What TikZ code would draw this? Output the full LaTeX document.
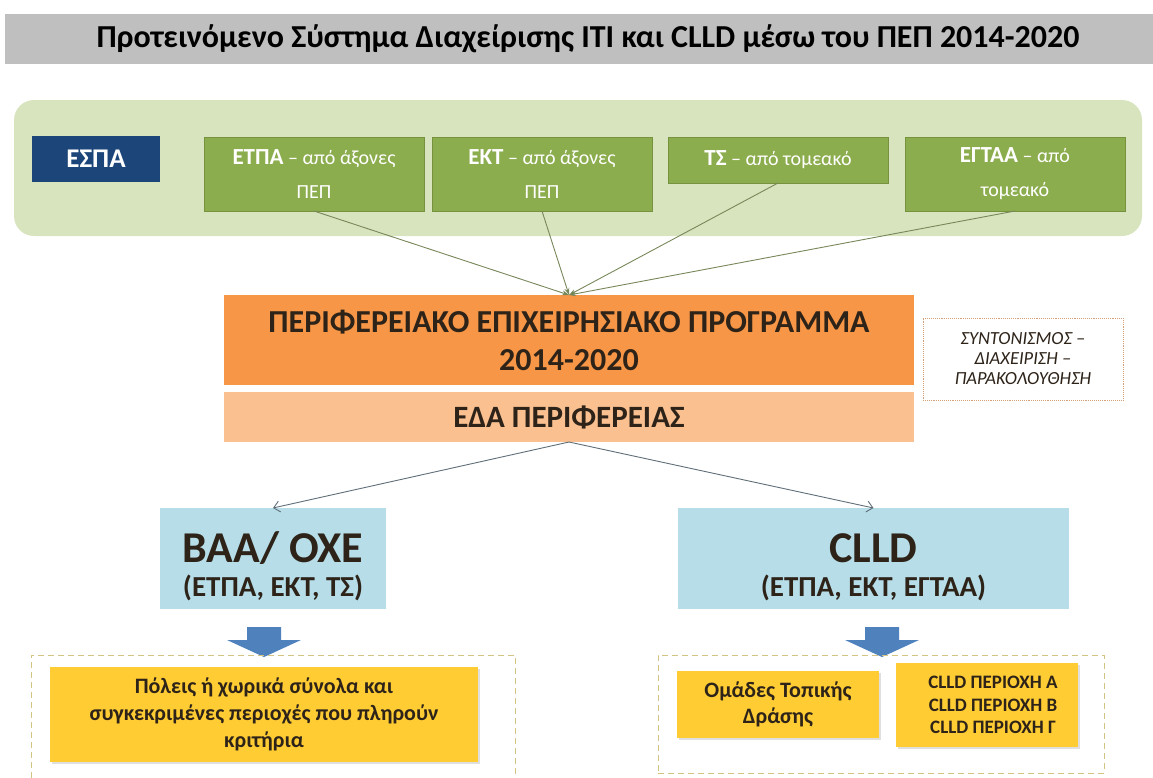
\documentclass[tikz,border=0pt]{standalone}
\usepackage{fontspec}
\setmainfont{Carlito}
\usetikzlibrary{arrows.meta, shadows}

\definecolor{titlegray}{RGB}{191,191,191}
\definecolor{fundbg}{RGB}{216,228,190}
\definecolor{fundgreen}{RGB}{140,173,78}
\definecolor{fundedge}{RGB}{118,146,62}
\definecolor{espablue}{RGB}{28,70,122}
\definecolor{peporange}{RGB}{247,150,70}
\definecolor{edaorange}{RGB}{250,192,144}
\definecolor{axisblue}{RGB}{183,222,232}
\definecolor{downblue}{RGB}{79,129,189}
\definecolor{areayellow}{RGB}{255,204,51}
\definecolor{areadash}{RGB}{212,196,130}
\definecolor{coorddot}{RGB}{214,160,120}
\definecolor{darktext}{RGB}{45,35,25}
\definecolor{linkgray}{RGB}{95,110,120}
\definecolor{fundline}{RGB}{120,135,90}

\tikzset{
  box/.style={anchor=north west, inner sep=2pt, align=center, outer sep=0pt},
  fundbox/.style={box, draw=fundedge, fill=fundgreen, text=white, minimum width=220pt,
    minimum height=74pt, font=\fontsize{20}{34}\selectfont},
  pepbox/.style={box, fill=peporange, text=darktext, minimum width=690pt,
    font=\bfseries\fontsize{32}{38}\selectfont},
  axisbox/.style={box, fill=axisblue, text=darktext, minimum height=101pt,
    font=\bfseries\fontsize{29}{34}\selectfont},
  areabox/.style={box, fill=areayellow, text=darktext, drop shadow={opacity=.25},
    font=\bfseries},
  areaframe/.style={draw=areadash, dashed, dash pattern=on 6pt off 4pt, line width=.8pt},
  fundlink/.style={draw=fundline, line width=.9pt, -{Stealth[length=7pt,width=5pt]}},
  axislink/.style={draw=linkgray, line width=.9pt, -{Straight Barb[length=6pt,width=11pt]}}
}

\newcommand{\fundbig}[1]{{\bfseries\fontsize{23}{34}\selectfont #1}}
\newcommand{\axisbig}[1]{{\fontsize{44}{34}\selectfont\rule{0pt}{47pt}#1}}

\begin{document}
\begin{tikzpicture}[x=1pt, y=-1pt]
  \useasboundingbox (0,0) rectangle (1153,777);

  % title
  \node[box, fill=titlegray, minimum width=1166pt, minimum height=50pt,
    font=\bfseries\fontsize{32}{34}\selectfont] (title) at (5,14)
    {Προτεινόμενο Σύστημα Διαχείρισης ITI και CLLD μέσω του ΠΕΠ 2014-2020};

  % funds
  \node[box, fill=fundbg, rounded corners=20pt, minimum width=1128pt, minimum height=136pt] (funds) at (14,100) {};
  \node[box, fill=espablue, text=white, minimum width=128pt, minimum height=46pt,
    font=\bfseries\fontsize{27}{29}\selectfont] (espa) at (32,136) {ΕΣΠΑ};
  \node[fundbox] (etpa) at (204,137) {\fundbig{ΕΤΠΑ} – από άξονες\\ΠΕΠ};
  \node[fundbox] (ekt) at (432,137) {\fundbig{ΕΚΤ} – από άξονες\\ΠΕΠ};
  \node[fundbox, minimum height=46pt] (ts) at (668,137) {\fundbig{ΤΣ} – από τομεακό};
  \node[fundbox] (egtaa) at (905,137) {\fundbig{ΕΓΤΑΑ} – από\\τομεακό};

  % programme
  \node[pepbox, minimum height=90pt] (pep) at (224,295)
    {ΠΕΡΙΦΕΡΕΙΑΚΟ ΕΠΙΧΕΙΡΗΣΙΑΚΟ ΠΡΟΓΡΑΜΜΑ\\2014-2020};
  \node[pepbox, fill=edaorange, minimum height=50pt, font=\bfseries\fontsize{31}{34}\selectfont] (eda) at (224,392) {ΕΔΑ ΠΕΡΙΦΕΡΕΙΑΣ};
  \node[box, draw=coorddot, densely dotted, line width=.9pt, fill=white, minimum width=200pt,
    minimum height=82pt, text=darktext, font=\itshape\fontsize{18.5}{20}\selectfont] (coord) at (923,318)
    {ΣΥΝΤΟΝΙΣΜΟΣ –\\ΔΙΑΧΕΙΡΙΣΗ –\\ΠΑΡΑΚΟΛΟΥΘΗΣΗ};

  \foreach \src in {etpa,ekt,ts,egtaa}
    \draw[fundlink] (\src.south) -- (pep.north);

  % axes
  \node[axisbox, minimum width=226pt] (baa) at (160,508)
    {\axisbig{ΒΑΑ/ ΟΧΕ}\\(ΕΤΠΑ, ΕΚΤ, ΤΣ)};
  \node[axisbox, minimum width=391pt] (clld) at (678,508)
    {\axisbig{CLLD}\\(ΕΤΠΑ, ΕΚΤ, ΕΓΤΑΑ)};
  \draw[axislink] (eda.south) -- (baa.north);
  \draw[axislink] (eda.south) -- (clld.north);

  \foreach \cx in {264,882}
    \fill[downblue] (\cx-17,627) -- (\cx+17,627) -- (\cx+17,640) -- (\cx+37,640)
      -- (\cx,657) -- (\cx-37,640) -- (\cx-17,640) -- cycle;

  % areas
  \node[box, areaframe, minimum width=484pt, minimum height=135pt] (cityarea) at (31,655) {};
  \node[box, areaframe, minimum width=446pt, minimum height=118pt] (clldarea) at (658,655) {};
  \node[areabox, minimum width=428pt, minimum height=95pt, font=\bfseries\fontsize{22}{27}\selectfont] (cities) at (50,667)
    {Πόλεις ή χωρικά σύνολα και\\συγκεκριμένες περιοχές που πληρούν\\κριτήρια};
  \node[areabox, minimum width=202pt, minimum height=67pt, font=\bfseries\fontsize{22}{26}\selectfont] (lag) at (677,671)
    {Ομάδες Τοπικής\\Δράσης};
  \node[areabox, minimum width=182pt, minimum height=84pt, font=\bfseries\fontsize{19}{22.5}\selectfont] (regions) at (896,663)
    {\hspace*{12pt}CLLD ΠΕΡΙΟΧΗ Α\\\hspace*{12pt}CLLD ΠΕΡΙΟΧΗ Β\\\hspace*{12pt}CLLD ΠΕΡΙΟΧΗ Γ};
\end{tikzpicture}
\end{document}
